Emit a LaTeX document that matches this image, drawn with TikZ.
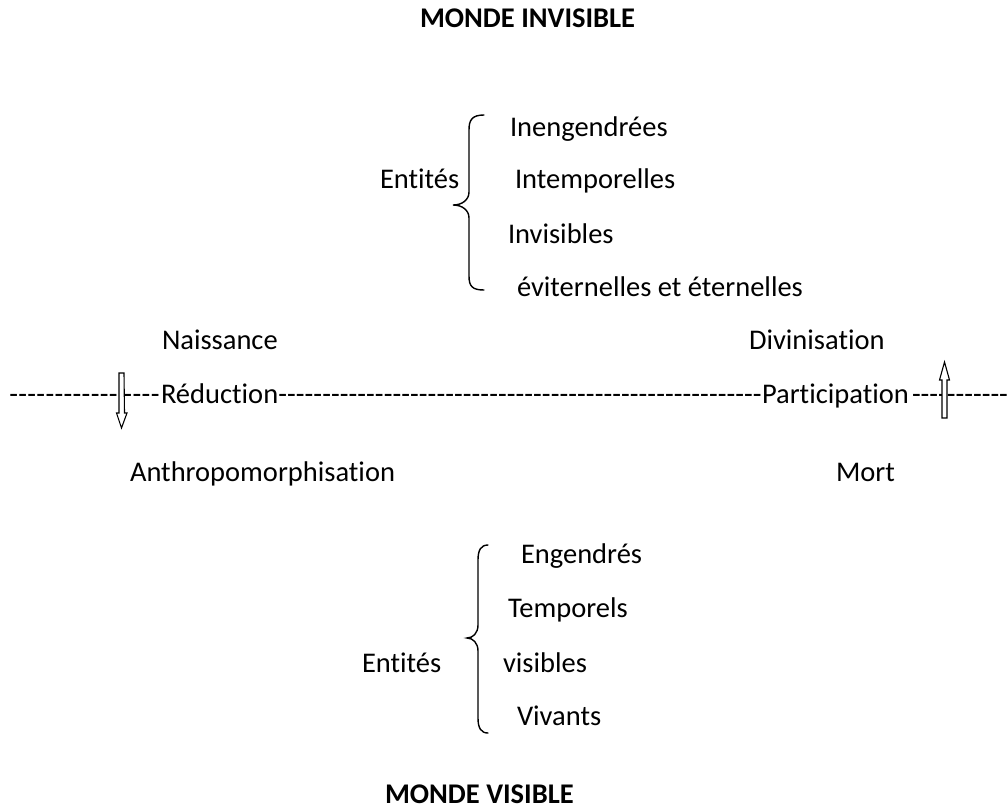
\documentclass[tikz,border=0pt]{standalone}
\usepackage{fontspec}
\setmainfont{Carlito}[Ligatures=NoCommon]
\usetikzlibrary{calc}
\begin{document}
\begin{tikzpicture}[x=1pt,y=-1pt,
  txt/.style={inner sep=0pt, outer sep=0pt, anchor=base west, font=\fontsize{28.5}{34}\selectfont},
  ttl/.style={inner sep=0pt, outer sep=0pt, anchor=base west, font=\fontsize{28.5}{34}\selectfont\bfseries},
  brace/.style={line width=1.4pt, line cap=round},
  hollow/.style={draw=black, line width=1.1pt, fill=white, line join=miter}]
\useasboundingbox (0,0) rectangle (1008,809);
\newcommand{\dashfill}[1]{\hbox to #1{\xleaders\hbox{-}\hfill}}
% titles
\node[ttl] (t1) at (420,27) {MONDE INVISIBLE};
\node[ttl] (t2) at (385,803) {MONDE VISIBLE};
% upper group
\node[txt] (e1) at (380,188) {Entités};
\node[txt] (u1) at (510,136) {Inengendrées};
\node[txt] (u2) at (515,188) {Intemporelles};
\node[txt] (u3) at (508,243) {Invisibles};
\node[txt] (u4) at (517,296) {éviternelles et éternelles};
\draw[brace] (484,115) .. controls (472,115) and (469,120) .. (469,130)
  -- (469,192) .. controls (469,200) and (462,205) .. (453,205)
  .. controls (462,205) and (469,210) .. (469,218)
  -- (469,276) .. controls (469,286) and (472,290) .. (484,290);
% middle
\node[txt] (n1) at (162,349) {Naissance};
\node[txt] (n2) at (749,349) {Divinisation};
\node[txt] (d1) at (9,403) {\dashfill{109pt}};
\node[txt] (d2) at (123,403) {\dashfill{37pt}};
\node[txt] (r1) at (161,403) {Réduction};
\node[txt] (p1) at (762,403) {Participation};
\path let \p1=(r1.base east), \p2=(p1.base west) in
  node[txt] (d3) at (\p1) {\dashfill{\dimexpr\x2-\x1\relax}};
\node[txt] (d4) at (912,403) {\dashfill{96pt}};
\node[txt] (a1) at (130,481) {Anthropomorphisation};
\node[txt] (m1) at (836,481) {Mort};
% arrows
\coordinate (dn) at (121.5,373);
\coordinate (up) at (944.5,418);
\draw[hollow] ([xshift=-2.5pt]dn) -- ++(0,40) -- ++(-2.5,0) -- (121.5,428) -- (127,413) -- ++(-2.5,0) -- ([xshift=2.5pt]dn) -- cycle;
\draw[hollow] ([xshift=-2.5pt]up) -- ++(0,-38) -- ++(-2.5,0) -- (944.5,362) -- (949.5,380) -- ++(-2.5,0) -- ([xshift=2.5pt]up) -- cycle;
% lower group
\node[txt] (e2) at (362,672) {Entités};
\node[txt] (l1) at (521,563) {Engendrés};
\node[txt] (l2) at (508,617) {Temporels};
\node[txt] (l3) at (503,672) {visibles};
\node[txt] (l4) at (517,725) {Vivants};
\draw[brace] (488,545) .. controls (481,545) and (478,550) .. (478,560)
  -- (478,625) .. controls (478,633) and (473,638) .. (467,638)
  .. controls (473,638) and (478,643) .. (478,651)
  -- (478,718) .. controls (478,728) and (481,733) .. (488,733);
\end{tikzpicture}
\end{document}
